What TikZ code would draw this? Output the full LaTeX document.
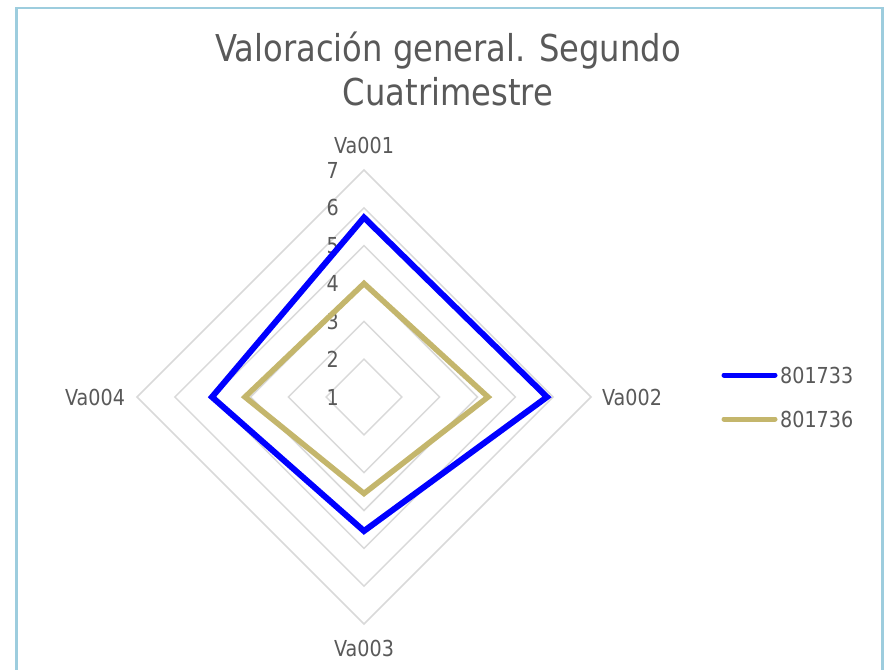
\documentclass[tikz,border=0pt]{standalone}
\usepackage{fontspec}
\setmainfont{DejaVu Sans}[FakeStretch=0.87]
\definecolor{txtgray}{HTML}{595959}
\definecolor{gridgray}{HTML}{D9D9D9}
\definecolor{serblue}{HTML}{0000FF}
\definecolor{sergold}{HTML}{C4B66C}
\definecolor{framecol}{HTML}{9DCDDE}
\begin{document}
\begin{tikzpicture}[x=1pt,y=-1pt,
  titletext/.style={text=txtgray,font=\fontsize{37}{43}\selectfont,inner sep=0pt},
  axlabel/.style={text=txtgray,font=\fontsize{22}{26}\selectfont,inner sep=0pt},
  ticklabel/.style={text=txtgray,font=\fontsize{22}{26}\selectfont,inner sep=0pt,anchor=east},
  gridline/.style={draw=gridgray,line width=1.5pt},
  serA/.style={draw=serblue,line width=6pt,line join=miter},
  serB/.style={draw=sergold,line width=5.5pt,line join=miter},
  legline/.style={line width=5pt,line cap=round}]
\useasboundingbox (0,0) rectangle (891,669);
\clip (0,0) rectangle (891,669);
\fill[white] (0,0) rectangle (891,669);
\draw[framecol,line width=2.5pt] (16.5,8) rectangle (882.5,700);
% title
\node[titletext,anchor=base] (t1) at (448,62) {Valoración general. Segundo};
\node[titletext,anchor=base] (t2) at (448,105) {Cuatrimestre};
% grid diamonds (levels 2..7)
\coordinate (c) at (364,397);
\foreach \k in {1,...,6}{
  \pgfmathsetmacro{\r}{37.83*\k}
  \draw[gridline] (364,397-\r) -- (364+\r,397) -- (364,397+\r) -- (364-\r,397) -- cycle;
}
% tick labels
\foreach \v in {1,...,7}{
  \pgfmathsetmacro{\yy}{397-37.83*(\v-1)}
  \node[ticklabel] (tk\v) at (339,\yy) {\v};
}
% axis labels
\node[axlabel] (va1) at (364,145) {Va001};
\node[axlabel] (va2) at (632,397) {Va002};
\node[axlabel] (va3) at (364,648) {Va003};
\node[axlabel] (va4) at (95,397) {Va004};
% series 801736 (gold)
\coordinate (g1) at (364,283.5);
\coordinate (g2) at (488,397);
\coordinate (g3) at (364,493.5);
\coordinate (g4) at (245,397);
\draw[serB] (g1) -- (g2) -- (g3) -- (g4) -- cycle;
% series 801733 (blue)
\coordinate (b1) at (364,217.5);
\coordinate (b2) at (547,397);
\coordinate (b3) at (364,531);
\coordinate (b4) at (212,397);
\draw[serA] (b1) -- (b2) -- (b3) -- (b4) -- cycle;
% legend
\coordinate (lA1) at (724,375);
\coordinate (lA2) at (775,375);
\coordinate (lB1) at (724,419);
\coordinate (lB2) at (775,419);
\draw[legline,serblue] (lA1) -- (lA2);
\draw[legline,sergold] (lB1) -- (lB2);
\node[axlabel,anchor=west] (legA) at (780,375) {801733};
\node[axlabel,anchor=west] (legB) at (780,419) {801736};
\end{tikzpicture}
\end{document}
